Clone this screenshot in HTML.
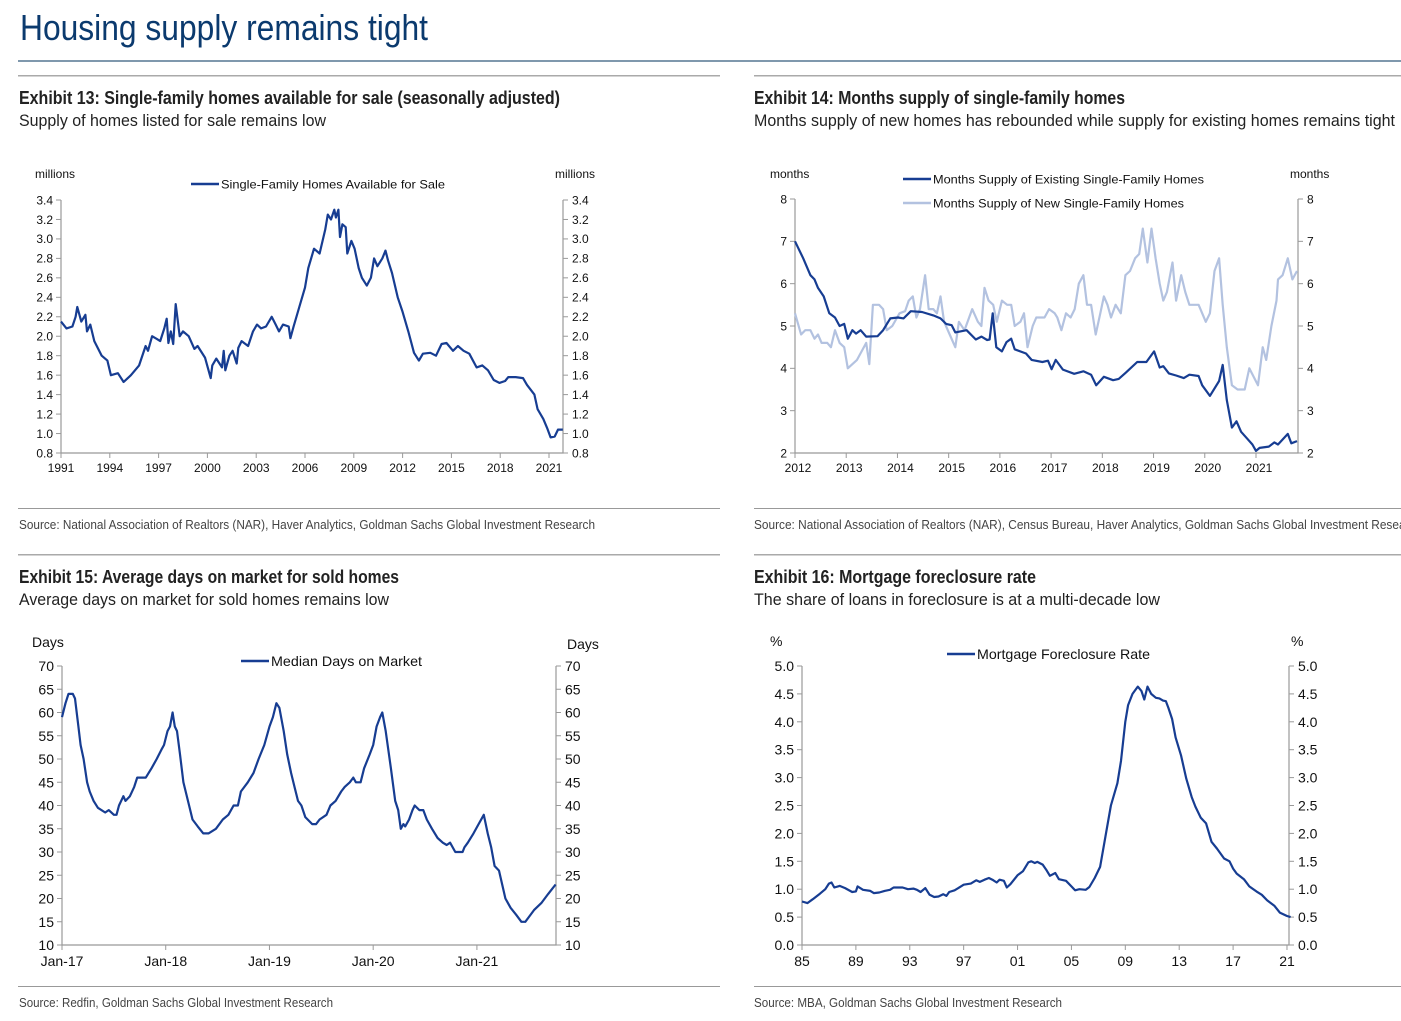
<!DOCTYPE html>
<html><head><meta charset="utf-8"><style>
html,body{margin:0;padding:0;background:#fff;}
svg{display:block;font-family:"Liberation Sans",Arial,sans-serif;}
</style></head><body>
<svg id="root" width="1401" height="1021" viewBox="0 0 1401 1021" xmlns="http://www.w3.org/2000/svg">
<text x="20" y="40" font-size="36" fill="#0b3a6e" textLength="408" lengthAdjust="spacingAndGlyphs">Housing supply remains tight</text>
<rect x="18" y="60" width="1383" height="2" fill="#7f98ad"/>
<g>
<rect x="18" y="75" width="702" height="1.5" fill="#aaa"/>
<rect x="754" y="75" width="647" height="1.5" fill="#aaa"/>
<text x="19" y="104" font-size="18" font-weight="bold" fill="#222" textLength="541" lengthAdjust="spacingAndGlyphs">Exhibit 13: Single-family homes available for sale (seasonally adjusted)</text>
<text x="19" y="126" font-size="17" fill="#222" textLength="307" lengthAdjust="spacingAndGlyphs">Supply of homes listed for sale remains low</text>
<text x="754" y="104" font-size="18" font-weight="bold" fill="#222" textLength="371" lengthAdjust="spacingAndGlyphs">Exhibit 14: Months supply of single-family homes</text>
<text x="754" y="126" font-size="17" fill="#222" textLength="641" lengthAdjust="spacingAndGlyphs">Months supply of new homes has rebounded while supply for existing homes remains tight</text>
<rect x="18" y="508" width="702" height="1" fill="#999"/>
<rect x="754" y="508" width="647" height="1" fill="#999"/>
<text x="19" y="529" font-size="13" fill="#444" textLength="576" lengthAdjust="spacingAndGlyphs">Source: National Association of Realtors (NAR), Haver Analytics, Goldman Sachs Global Investment Research</text>
<text x="754" y="529" font-size="13" fill="#444" textLength="668" lengthAdjust="spacingAndGlyphs">Source: National Association of Realtors (NAR), Census Bureau, Haver Analytics, Goldman Sachs Global Investment Research</text>
<rect x="18" y="554" width="702" height="1.5" fill="#aaa"/>
<rect x="754" y="554" width="647" height="1.5" fill="#aaa"/>
<text x="19" y="583" font-size="18" font-weight="bold" fill="#222" textLength="380" lengthAdjust="spacingAndGlyphs">Exhibit 15: Average days on market for sold homes</text>
<text x="19" y="605" font-size="17" fill="#222" textLength="370" lengthAdjust="spacingAndGlyphs">Average days on market for sold homes remains low</text>
<text x="754" y="583" font-size="18" font-weight="bold" fill="#222" textLength="282" lengthAdjust="spacingAndGlyphs">Exhibit 16: Mortgage foreclosure rate</text>
<text x="754" y="605" font-size="17" fill="#222" textLength="406" lengthAdjust="spacingAndGlyphs">The share of loans in foreclosure is at a multi-decade low</text>
<rect x="18" y="986" width="702" height="1" fill="#999"/>
<rect x="754" y="986" width="647" height="1" fill="#999"/>
<text x="19" y="1007" font-size="13" fill="#444" textLength="314" lengthAdjust="spacingAndGlyphs">Source: Redfin, Goldman Sachs Global Investment Research</text>
<text x="754" y="1007" font-size="13" fill="#444" textLength="308" lengthAdjust="spacingAndGlyphs">Source: MBA, Goldman Sachs Global Investment Research</text>
</g>
</svg>
<script>
// ---- Exhibit 13 data ----
const homesYears = [1991.0,1991.34,1991.7,1991.9,1992.0,1992.25,1992.5,1992.6,1992.8,1993.05,1993.5,1993.85,1994.07,1994.5,1994.85,1995.3,1995.8,1996.2,1996.35,1996.6,1996.9,1997.1,1997.35,1997.5,1997.6,1997.75,1997.9,1998.05,1998.3,1998.5,1998.85,1999.2,1999.4,1999.85,2000.2,2000.3,2000.55,2000.9,2001.0,2001.1,2001.35,2001.55,2001.8,2001.9,2002.1,2002.5,2002.8,2003.05,2003.3,2003.6,2003.95,2004.2,2004.4,2004.65,2005.0,2005.1,2005.3,2005.65,2006.0,2006.2,2006.55,2006.9,2007.25,2007.4,2007.6,2007.8,2007.9,2008.05,2008.15,2008.3,2008.5,2008.6,2008.85,2009.05,2009.3,2009.5,2009.8,2010.05,2010.25,2010.45,2010.75,2010.95,2011.1,2011.35,2011.7,2012.0,2012.35,2012.7,2013.0,2013.25,2013.7,2014.05,2014.4,2014.7,2015.1,2015.4,2015.75,2016.1,2016.55,2016.9,2017.25,2017.6,2017.95,2018.3,2018.5,2018.95,2019.4,2019.65,2020.1,2020.3,2020.65,2020.9,2021.1,2021.35,2021.55,2021.85];
const homesValues = [2.15,2.08,2.1,2.2,2.3,2.15,2.22,2.05,2.12,1.95,1.8,1.75,1.6,1.62,1.53,1.6,1.7,1.9,1.85,2.0,1.97,1.95,2.08,2.18,1.93,2.05,1.92,2.33,2.0,2.05,2.0,1.87,1.9,1.78,1.57,1.7,1.77,1.68,1.85,1.65,1.8,1.85,1.72,1.88,1.95,1.9,2.05,2.12,2.08,2.1,2.2,2.12,2.05,2.12,2.1,1.98,2.1,2.3,2.5,2.7,2.9,2.85,3.1,3.25,3.2,3.3,3.22,3.3,3.02,3.15,3.12,2.85,2.98,2.9,2.7,2.6,2.52,2.6,2.8,2.72,2.8,2.88,2.78,2.65,2.4,2.25,2.05,1.83,1.75,1.82,1.83,1.8,1.92,1.93,1.85,1.9,1.85,1.82,1.68,1.7,1.65,1.55,1.52,1.54,1.58,1.58,1.57,1.5,1.4,1.25,1.15,1.05,0.96,0.97,1.04,1.04];
const homesYTicks = [0.8,1.0,1.2,1.4,1.6,1.8,2.0,2.2,2.4,2.6,2.8,3.0,3.2,3.4];
const homesXTicks = [1991,1994,1997,2000,2003,2006,2009,2012,2015,2018,2021];

// ---- Exhibit 14 data ----
const existingYears = [2012,2012.16,2012.3,2012.38,2012.45,2012.56,2012.67,2012.78,2012.87,2012.96,2013.03,2013.12,2013.19,2013.28,2013.39,2013.61,2013.72,2013.86,2014.01,2014.12,2014.26,2014.48,2014.7,2014.84,2014.95,2015.06,2015.13,2015.35,2015.53,2015.64,2015.75,2015.8,2015.86,2015.93,2016.04,2016.13,2016.22,2016.29,2016.51,2016.62,2016.83,2016.94,2017.01,2017.09,2017.23,2017.45,2017.63,2017.78,2017.88,2018.03,2018.21,2018.32,2018.46,2018.68,2018.86,2019.01,2019.12,2019.19,2019.3,2019.44,2019.59,2019.7,2019.88,2019.95,2020.1,2020.28,2020.35,2020.43,2020.53,2020.62,2020.71,2020.82,2020.93,2021,2021.07,2021.25,2021.36,2021.43,2021.62,2021.69,2021.8];
const existingValues = [7.0,6.6,6.2,6.1,5.9,5.7,5.3,5.2,5.0,5.05,4.7,4.9,4.82,4.9,4.75,4.76,4.9,5.18,5.2,5.18,5.35,5.33,5.25,5.18,5.05,5.02,4.85,4.9,4.68,4.75,4.67,4.68,5.3,4.5,4.4,4.62,4.7,4.45,4.35,4.2,4.15,4.18,3.98,4.2,3.97,3.87,3.93,3.85,3.6,3.8,3.72,3.75,3.9,4.15,4.15,4.4,4.02,4.05,3.88,3.83,3.77,3.85,3.82,3.6,3.35,3.7,4.08,3.25,2.6,2.75,2.5,2.35,2.2,2.05,2.12,2.15,2.25,2.2,2.45,2.23,2.28];
const newYears = [2012,2012.12,2012.2,2012.3,2012.38,2012.45,2012.52,2012.63,2012.7,2012.78,2012.87,2012.96,2013.03,2013.21,2013.39,2013.45,2013.52,2013.64,2013.72,2013.79,2013.9,2014.04,2014.15,2014.22,2014.3,2014.37,2014.44,2014.54,2014.61,2014.7,2014.77,2014.84,2014.91,2015.02,2015.13,2015.2,2015.31,2015.46,2015.57,2015.64,2015.7,2015.78,2015.87,2015.94,2016.04,2016.14,2016.22,2016.29,2016.4,2016.47,2016.54,2016.64,2016.71,2016.87,2016.96,2017.07,2017.12,2017.2,2017.29,2017.38,2017.46,2017.54,2017.63,2017.7,2017.78,2017.87,2017.96,2018.03,2018.1,2018.17,2018.26,2018.36,2018.45,2018.54,2018.64,2018.72,2018.79,2018.88,2018.96,2019.04,2019.12,2019.19,2019.26,2019.37,2019.44,2019.54,2019.62,2019.7,2019.88,2019.95,2020.02,2020.1,2020.19,2020.28,2020.35,2020.43,2020.53,2020.64,2020.78,2020.87,2021.04,2021.13,2021.2,2021.3,2021.4,2021.43,2021.52,2021.62,2021.71,2021.8];
const newValues = [5.3,4.8,4.9,4.9,4.7,4.8,4.6,4.6,4.5,4.9,4.6,4.5,4.0,4.2,4.6,4.1,5.5,5.5,5.4,4.9,5.0,5.3,5.35,5.6,5.7,5.2,5.4,6.2,5.4,5.4,5.3,5.7,5.1,4.8,4.5,5.1,4.9,5.4,5.1,5.0,5.9,5.6,5.5,5.1,5.6,5.5,5.5,5.0,5.1,5.3,4.5,5.0,5.2,5.2,5.4,5.3,5.2,4.9,5.3,5.2,5.4,6.0,6.2,5.5,5.5,4.8,5.3,5.7,5.5,5.2,5.5,5.3,6.2,6.3,6.6,6.7,7.3,6.5,7.3,6.6,6.0,5.6,5.8,6.5,5.6,6.2,5.8,5.5,5.5,5.3,5.1,5.3,6.3,6.6,5.5,4.5,3.6,3.5,3.5,4.0,3.6,4.5,4.2,5.0,5.6,6.1,6.2,6.6,6.1,6.3];
const supplyYTicks = [2,3,4,5,6,7,8];
const supplyXTicks = [2012,2013,2014,2015,2016,2017,2018,2019,2020,2021];

// ---- Exhibit 15 data (months since Jan-17) ----
const domMonths = [0,0.4,0.75,1.25,1.5,1.9,2.15,2.5,2.9,3.2,3.65,4.15,5,5.4,6,6.3,6.6,7.1,7.35,7.85,8.35,8.7,9.7,10.35,10.95,11.5,11.8,12.2,12.5,12.8,13.05,13.3,13.65,14.05,14.7,15.1,15.7,16.35,16.95,17.8,18.6,19.25,19.85,20.35,20.7,21.5,22.15,22.75,23.4,24,24.4,24.8,25.15,25.65,26.05,26.5,26.9,27.3,27.7,28.15,28.95,29.4,29.8,30.6,31.05,31.65,32.3,32.7,33.3,33.7,34,34.55,34.95,35.6,36,36.4,36.8,37.05,37.45,38.05,38.55,38.9,39.2,39.5,39.7,40.15,40.55,40.8,41.35,41.8,42.2,42.8,43.45,44.05,44.5,44.9,45.5,46.35,46.55,46.95,47.6,48.2,48.8,49.25,49.65,50.05,50.55,51.3,51.9,52.55,53.15,53.6,54,54.6,55.45,56.25,57.1];
const domValues = [59,62,64,64,63,57,53,50,45,43,41,39.5,38.5,39,38,38,40,42,41,42,44,46,46,48,50,52,53,56,57,60,57,56,51,45,40,37,35.5,34,34,35,37,38,40,40,43,45,47,50,53,57,59,62,61,56,51,47,44,41,40,37.5,36,36,37,38,40,41,43,44,45,46,45,45,48,51,53,57,59,60,56,48,41,39,35,36,35.5,37,39,40,39,39,37,35,33,32,31.5,32,30,30,31,32,34,36,38,34,31,27,26,20,18,16.5,15,15,16,17.5,19,21,23];
const domYTicks = [10,15,20,25,30,35,40,45,50,55,60,65,70];
const domXTicks = [0,12,24,36,48];
const domXLabels = ["Jan-17","Jan-18","Jan-19","Jan-20","Jan-21"];

// ---- Exhibit 16 data ----
const fcYears = [1985,1985.4,1985.8,1986.33,1986.73,1987,1987.19,1987.4,1987.8,1988.2,1988.73,1989,1989.13,1989.53,1990.07,1990.33,1990.73,1991.13,1991.53,1991.8,1992.47,1992.87,1993.27,1993.53,1993.8,1994.15,1994.47,1994.81,1995.13,1995.48,1995.72,1995.93,1996.33,1996.6,1997,1997.53,1997.93,1998.2,1998.55,1998.87,1999.13,1999.45,1999.67,1999.99,2000.2,2000.47,2001,2001.4,2001.8,2002.01,2002.28,2002.47,2002.87,2003.13,2003.4,2003.8,2004.07,2004.6,2005,2005.27,2005.59,2006.07,2006.33,2006.73,2007.13,2007.53,2007.93,2008.41,2008.68,2009,2009.21,2009.53,2009.93,2010.2,2010.41,2010.65,2010.92,2011.27,2011.53,2011.8,2012.01,2012.2,2012.47,2012.73,2013.13,2013.53,2013.93,2014.2,2014.6,2015,2015.4,2015.8,2016.33,2016.73,2017,2017.27,2017.8,2018.2,2018.73,2019.13,2019.53,2020.07,2020.47,2021,2021.27];
const fcValues = [0.78,0.75,0.82,0.92,1.0,1.1,1.12,1.03,1.06,1.02,0.95,0.96,1.05,0.99,0.97,0.93,0.94,0.97,0.99,1.03,1.03,1.0,1.01,0.99,0.95,1.02,0.9,0.86,0.87,0.91,0.88,0.95,0.98,1.02,1.08,1.1,1.16,1.13,1.17,1.2,1.17,1.12,1.17,1.15,1.03,1.09,1.25,1.32,1.48,1.5,1.47,1.49,1.44,1.35,1.24,1.29,1.18,1.15,1.05,0.98,1.0,0.99,1.04,1.2,1.4,1.95,2.5,2.9,3.3,4.0,4.3,4.5,4.63,4.55,4.4,4.63,4.5,4.43,4.42,4.38,4.37,4.25,4.05,3.72,3.4,2.98,2.65,2.48,2.28,2.18,1.85,1.73,1.55,1.5,1.37,1.28,1.18,1.05,0.96,0.9,0.8,0.7,0.58,0.52,0.5];
const fcYTicks = [0,0.5,1,1.5,2,2.5,3,3.5,4,4.5,5];
const fcXTicks = [1985,1989,1993,1997,2001,2005,2009,2013,2017,2021];
const fcXLabels = ["85","89","93","97","01","05","09","13","17","21"];

const NS = "http://www.w3.org/2000/svg";
const root = document.getElementById("root");
function mk(tag, attrs, parent){ const e=document.createElementNS(NS,tag); for(const k in attrs) e.setAttribute(k,attrs[k]); (parent||root).appendChild(e); return e; }

function chart(c){
  const g = mk("g",{});
  
  
  const sx = v => c.L + (v - c.xmin) / (c.xmax - c.xmin) * (c.R - c.L);
  const sy = v => c.B - (v - c.ymin) / (c.ymax - c.ymin) * (c.B - c.T);
  const ax = mk("path",{d:`M${c.L},${c.T}V${c.B}H${c.R}V${c.T}`,fill:"none",stroke:"#999","stroke-width":1.2},g);
  
  
  c.yticks.forEach(v=>{
    const y=sy(v);
    const tl=mk("line",{x1:c.L-5,x2:c.L,y1:y,y2:y,stroke:"#999"},g);
    
    
    const tr=mk("line",{x1:c.R,x2:c.R+5,y1:y,y2:y,stroke:"#999"},g);
    
    
    const lab = c.ydec ? v.toFixed(c.ydec) : String(v);
    const a=mk("text",{x:c.L-8,y:y+c.fs*0.36,"font-size":c.fs,"text-anchor":"end",fill:"#111"},g); a.textContent=lab;
    
    
    const b=mk("text",{x:c.R+9,y:y+c.fs*0.36,"font-size":c.fs,fill:"#111"},g); b.textContent=lab;
    
    
  });
  c.xticks.forEach((v,i)=>{
    const x=sx(v);
    const t=mk("line",{x1:x,x2:x,y1:c.B,y2:c.B+5,stroke:"#999"},g);
    
    
    const a=mk("text",{x:x+(c.xoff||0),y:c.B+c.fs+7,"font-size":c.fs,"text-anchor":"middle",fill:"#111"},g);
    a.textContent = c.xlabels ? c.xlabels[i] : String(v);
    
    
  });
  c.units.forEach(u=>{
    const t=mk("text",{x:u[0],y:u[1],"font-size":c.ufs||c.fs,fill:"#111"},g); t.textContent=u[2];
    
    
  });
  c.series.forEach(s=>{
    const d=s.x.map((v,i)=>(i?"L":"M")+sx(v).toFixed(1)+","+sy(s.y[i]).toFixed(1)).join("");
    const p=mk("path",{d:d,fill:"none",stroke:s.color,"stroke-width":2.2,"stroke-linejoin":"round"},g);
    
    
    const ll=mk("line",{x1:s.leg[0],x2:s.leg[0]+28,y1:s.leg[1],y2:s.leg[1],stroke:s.color,"stroke-width":2.5},g);
    
    
    const lt=mk("text",{x:s.leg[0]+30,y:s.leg[1]+c.lfs*0.36,"font-size":c.lfs,fill:"#111",textLength:s.leg[2],lengthAdjust:"spacingAndGlyphs"},g);
    lt.textContent=s.label;
    
    
  });
}

const DARK="#173d92", LIGHT="#b3c2e0";
chart({name:"exhibit13-chart",L:61,R:563,T:200,B:453,xmin:1991,xmax:2021.86,ymin:0.8,ymax:3.4,yticks:homesYTicks,ydec:1,xticks:homesXTicks,fs:12,lfs:12,
  units:[[35,178,"millions"],[555,178,"millions"]],
  series:[{name:"homes-available-line",x:homesYears,y:homesValues,color:DARK,label:"Single-Family Homes Available for Sale",leg:[191,184,224]}]});
chart({name:"exhibit14-chart",L:795,R:1298,T:199,B:453,xmin:2012,xmax:2021.82,ymin:2,ymax:8,yticks:supplyYTicks,xticks:supplyXTicks,xoff:3,fs:12,lfs:12,
  units:[[770,178,"months"],[1290,178,"months"]],
  series:[{name:"new-homes-supply-line",x:newYears,y:newValues,color:LIGHT,label:"Months Supply of New Single-Family Homes",leg:[903,203,251]},
          {name:"existing-homes-supply-line",x:existingYears,y:existingValues,color:DARK,label:"Months Supply of Existing Single-Family Homes",leg:[903,179,271]}]});
chart({name:"exhibit15-chart",L:62,R:556,T:666,B:945,xmin:0,xmax:57.15,ymin:10,ymax:70,yticks:domYTicks,xticks:domXTicks,xlabels:domXLabels,fs:14,lfs:14,
  units:[[32,647,"Days"],[567,649,"Days"]],
  series:[{name:"median-days-line",x:domMonths,y:domValues,color:DARK,label:"Median Days on Market",leg:[241,661,151]}]});
chart({name:"exhibit16-chart",L:802,R:1289,T:666,B:945,xmin:1985,xmax:2021.15,ymin:0,ymax:5,yticks:fcYTicks,ydec:1,xticks:fcXTicks,xlabels:fcXLabels,fs:14,lfs:14,
  units:[[770,646,"%"],[1291,646,"%"]],
  series:[{name:"foreclosure-rate-line",x:fcYears,y:fcValues,color:DARK,label:"Mortgage Foreclosure Rate",leg:[947,654,173]}]});
</script>
</body></html>
